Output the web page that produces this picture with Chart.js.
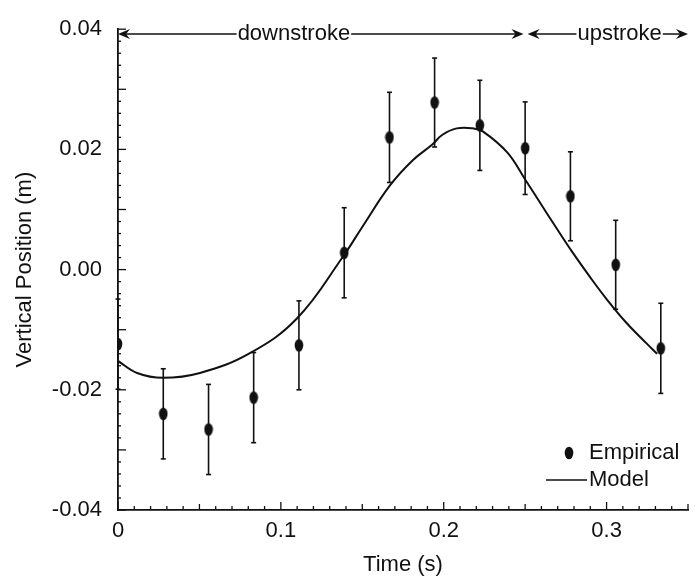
<!DOCTYPE html>
<html>
<head>
<meta charset="utf-8">
<script src="https://cdn.jsdelivr.net/npm/chart.js@4.4.1/dist/chart.umd.min.js"></script>
<style>
  html, body { margin: 0; padding: 0; background: #fff; }
  #wrap { width: 695px; height: 578px; }
</style>
</head>
<body>
<div id="wrap"><canvas id="myChart" width="695" height="578"></canvas></div>
<script>
// empirical samples, one every 1/36 s
const empiricalTime = [0, 0.0278, 0.0556, 0.0833, 0.1111, 0.1389, 0.1667, 0.1944, 0.2222, 0.25, 0.2778, 0.3056, 0.3333];
const empiricalPos = [-0.0124, -0.0240, -0.0266, -0.0213, -0.0126, 0.0028, 0.0220, 0.0278, 0.0240, 0.0202, 0.0122, 0.0008, -0.0131];
const empiricalErr = [0.0075, 0.0075, 0.0075, 0.0075, 0.0074, 0.0075, 0.0075, 0.0074, 0.0075, 0.0077, 0.0074, 0.0074, 0.0075];

// model curve
const modelTime = [0, 0.0117, 0.0276, 0.0503, 0.081, 0.110, 0.138, 0.150, 0.167, 0.181, 0.193, 0.199, 0.208, 0.218, 0.224, 0.239, 0.250, 0.259, 0.269, 0.279, 0.290, 0.300, 0.312, 0.325, 0.331];
const modelPos = [-0.0152, -0.0172, -0.0180, -0.0172, -0.0139, -0.0081, 0.0021, 0.0071, 0.0140, 0.0182, 0.0208, 0.0224, 0.0235, 0.0235, 0.0230, 0.0195, 0.0150, 0.0112, 0.0070, 0.0029, -0.0013, -0.0049, -0.0088, -0.0124, -0.0140];

const xTickLabels = ['0', '0.1', '0.2', '0.3'];
const yTickLabels = ['-0.04', '-0.02', '0.00', '0.02', '0.04'];

// stroke phases along the top
const phaseLabels = ['downstroke', 'upstroke'];
const phaseStart = [0, 0.2515];
const phaseEnd = [0.249, 0.35];
const phaseTextAt = [0.108, 0.308];
const phaseLevel = 0.0392;

const ink = '#111';
const fontFamily = '"Liberation Sans", Arial, Helvetica, sans-serif';

// filled ellipse marker, a bit taller than wide
function makeMarker() {
    const c = document.createElement('canvas');
    c.width = 10;
    c.height = 14;
    const g = c.getContext('2d');
    g.fillStyle = ink;
    g.beginPath();
    g.ellipse(5, 7, 4.3, 6.3, 0, 0, Math.PI * 2);
    g.fill();
    return c;
}
const marker = makeMarker();

function line(ctx, x1, y1, x2, y2) {
    ctx.beginPath();
    ctx.moveTo(x1, y1);
    ctx.lineTo(x2, y2);
    ctx.stroke();
}

function arrowHead(ctx, x, y, dir) {
    // dir = -1 points left, 1 points right
    ctx.beginPath();
    ctx.moveTo(x, y);
    ctx.lineTo(x - dir * 12, y - 5);
    ctx.lineTo(x - dir * 8, y);
    ctx.lineTo(x - dir * 12, y + 5);
    ctx.closePath();
    ctx.fill();
}

const errorBars = {
    id: 'errorBars',
    beforeDatasetsDraw(chart) {
        const ctx = chart.ctx;
        const x = chart.scales.x, y = chart.scales.y;
        ctx.save();
        ctx.strokeStyle = ink;
        ctx.lineWidth = 1.6;
        empiricalTime.forEach((t, i) => {
            const px = x.getPixelForValue(t);
            const top = y.getPixelForValue(empiricalPos[i] + empiricalErr[i]);
            const bot = y.getPixelForValue(empiricalPos[i] - empiricalErr[i]);
            line(ctx, px, top, px, bot);
            line(ctx, px - 2.5, top, px + 2.5, top);
            line(ctx, px - 2.5, bot, px + 2.5, bot);
        });
        ctx.restore();
    }
};

const extras = {
    id: 'extras',
    afterDatasetsDraw(chart) {
        const ctx = chart.ctx;
        const x = chart.scales.x, y = chart.scales.y;
        const area = chart.chartArea;
        ctx.save();
        ctx.strokeStyle = ink;
        ctx.fillStyle = ink;
        ctx.lineWidth = 1.3;

        // inward ticks
        for (let i = 0; i <= 35; i++) {
            const px = x.getPixelForValue(i / 100);
            const len = i % 10 === 0 ? 8 : (i % 5 === 0 ? 6 : 4);
            line(ctx, px, area.bottom, px, area.bottom - len);
        }
        for (let j = -20; j <= 20; j++) {
            const py = y.getPixelForValue(j * 0.002);
            const len = j % 5 === 0 ? 8 : 3;
            line(ctx, area.left, py, area.left + len, py);
        }

        // phase arrows
        ctx.font = '22px ' + fontFamily;
        ctx.textAlign = 'center';
        ctx.textBaseline = 'middle';
        ctx.lineWidth = 1.5;
        const py = y.getPixelForValue(phaseLevel);
        phaseLabels.forEach((lab, i) => {
            const a = x.getPixelForValue(phaseStart[i]);
            const b = x.getPixelForValue(phaseEnd[i]);
            const c = x.getPixelForValue(phaseTextAt[i]);
            const w = ctx.measureText(lab).width;
            ctx.fillText(lab, c, py);
            line(ctx, a + 4, py, c - w / 2 - 1, py);
            line(ctx, c + w / 2 + 1, py, b - 4, py);
            arrowHead(ctx, a, py, -1);
            arrowHead(ctx, b, py, 1);
        });

        // legend, lower right inside the plot
        ctx.textAlign = 'left';
        const lx = area.right - 99;
        const ly1 = area.bottom - 57;
        const ly2 = area.bottom - 30;
        ctx.drawImage(marker, lx - 25, ly1 - 7);
        ctx.fillText('Empirical', lx, ly1);
        ctx.lineWidth = 1.6;
        line(ctx, lx - 43, ly2, lx - 2, ly2);
        ctx.fillText('Model', lx, ly2);
        ctx.restore();
    }
};

Chart.defaults.font.family = fontFamily;
Chart.defaults.font.size = 22;
Chart.defaults.color = ink;

const ctx = document.getElementById('myChart').getContext('2d');
new Chart(ctx, {
    type: 'scatter',
    data: {
        datasets: [{
            label: 'Model',
            data: modelTime.map((t, i) => ({ x: t, y: modelPos[i] })),
            showLine: true,
            borderColor: ink,
            borderWidth: 2,
            pointRadius: 0,
            tension: 0.4,
            fill: false
        }, {
            label: 'Empirical',
            data: empiricalTime.map((t, i) => ({ x: t, y: empiricalPos[i] })),
            showLine: false,
            pointStyle: marker,
            pointRadius: 6,
            backgroundColor: ink,
            borderColor: ink
        }]
    },
    options: {
        responsive: false,
        animation: false,
        layout: { padding: { top: 26, right: 5, left: 0, bottom: 0 } },
        plugins: {
            legend: { display: false },
            tooltip: { enabled: false }
        },
        scales: {
            x: {
                type: 'linear',
                min: 0,
                max: 0.35,
                grid: { display: true, drawOnChartArea: false, drawTicks: false },
                border: { display: true, color: ink, width: 1.8 },
                ticks: {
                    stepSize: 0.1,
                    includeBounds: false,
                    padding: 8,
                    maxRotation: 0,
                    callback: (v) => {
                        const k = Math.round(v * 10);
                        return Math.abs(v * 10 - k) < 1e-6 ? (xTickLabels[k] || '') : '';
                    }
                },
                title: { display: true, text: 'Time (s)', padding: { top: 0, bottom: 0 } },
                afterFit: (s) => { s.height = 68; }
            },
            y: {
                type: 'linear',
                min: -0.04,
                max: 0.04,
                grid: { display: true, drawOnChartArea: false, drawTicks: false },
                border: { display: true, color: ink, width: 1.8 },
                ticks: {
                    stepSize: 0.02,
                    padding: 16,
                    callback: (v) => yTickLabels[Math.round((v + 0.04) / 0.02)] || ''
                },
                title: { display: true, text: 'Vertical Position (m)', padding: { top: 12, bottom: 0 } },
                afterFit: (s) => { s.width = 118; }
            }
        }
    },
    plugins: [errorBars, extras]
});
</script>
</body>
</html>
